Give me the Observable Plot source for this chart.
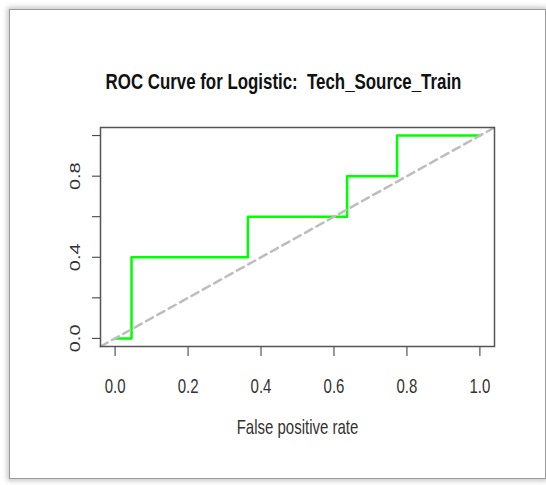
<!DOCTYPE html>
<html><head><meta charset="utf-8">
<script src="https://cdn.jsdelivr.net/npm/d3@7"></script>
<script src="https://cdn.jsdelivr.net/npm/@observablehq/plot@0.6"></script>
<style>
html,body{margin:0;padding:0;background:#fff;}
#wrap{position:relative;width:546px;height:485px;overflow:hidden;}
#frame{position:absolute;left:9px;top:9px;width:535px;height:468px;border:1px solid #9a9a9a;box-shadow:0 0 5px 2px rgba(0,0,0,0.22);background:#fff;}
#chart{position:absolute;left:0;top:0;}
svg text{white-space:pre;}
</style></head><body>
<div id="wrap"><div id="frame"></div><div id="chart"></div></div>
<script>
// ROC curve points (false positive rate, true positive rate)
const fpr = [0, 0.045, 0.045, 0.364, 0.364, 0.636, 0.636, 0.773, 0.773, 1.0];
const tpr = [0, 0, 0.4, 0.4, 0.6, 0.6, 0.8, 0.8, 1.0, 1.0];
// reference diagonal (abline a=0, b=1) across the plot region
const diag = [-0.04, 1.04];
const xTicks = [0, 0.2, 0.4, 0.6, 0.8, 1.0];
const yTicks = [0, 0.2, 0.4, 0.6, 0.8, 1.0];
const yTickLabels = [0, 0.4, 0.8];
const titleText = "ROC Curve for Logistic:  Tech_Source_Train";
const xLabelText = "False positive rate";

const roc = fpr.map((x, i) => ({x, y: tpr[i]}));

const chart = Plot.plot({
  width: 546, height: 485,
  marginLeft: 100, marginRight: 52, marginTop: 127, marginBottom: 139,
  style: {fontFamily: "'Liberation Sans', Arial, sans-serif", fontSize: "20px", background: "transparent", color: "#333"},
  x: {domain: [-0.04, 1.04], ticks: xTicks, tickSize: 10, tickPadding: 22, tickFormat: d => d.toFixed(1), label: null},
  y: {domain: [-0.04, 1.04], ticks: yTicks, tickSize: 8, tickRotate: -90, tickPadding: 13,
      tickFormat: d => yTickLabels.includes(d) ? d.toFixed(1) : "", label: null},
  marks: [
    Plot.line(roc, {x: "x", y: "y", stroke: "#00ff00", strokeWidth: 2.5}),
    Plot.line(diag, {x: d => d, y: d => d, stroke: "#bdbdbd", strokeWidth: 2.5, strokeDasharray: "8,5"}),
    Plot.frame({stroke: "#555", strokeWidth: 1.5}),
    Plot.text([titleText], {text: d => d, frameAnchor: "top", dy: -54, dx: -14, fontWeight: "bold", fontSize: 22.5, fill: "#111"}),
    Plot.text([xLabelText], {text: d => d, frameAnchor: "bottom", dy: 87, fontSize: 20, fill: "#333"})
  ]
});
// horizontally condense all text like the reference
const S = 0.75;
chart.querySelectorAll("text").forEach(t => {
  const tr = t.getAttribute("transform");
  if (tr) {
    const m = tr.match(/^\s*translate\(([^)]*)\)(.*)$/);
    if (m) t.setAttribute("transform", `translate(${m[1]}) scale(${S},1)${m[2]}`);
    else t.setAttribute("transform", `scale(${S},1) ${tr}`);
  } else {
    t.setAttribute("transform", `scale(${S},1)`);
  }
});
document.getElementById("chart").appendChild(chart);
</script>
</body></html>
